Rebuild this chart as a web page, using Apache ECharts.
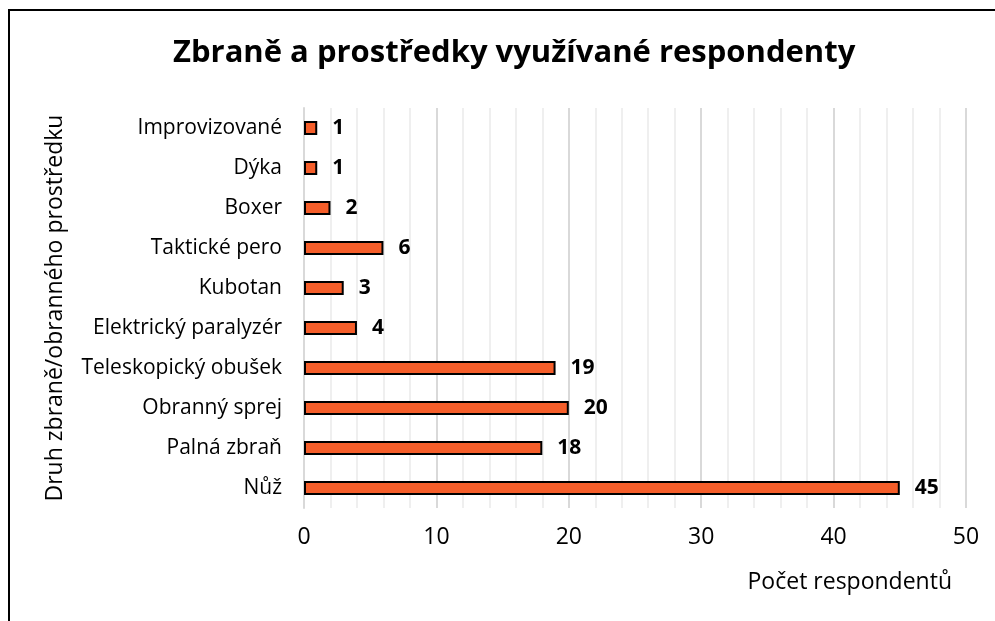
<!DOCTYPE html>
<html>
<head>
<meta charset="utf-8">
<script src="https://cdn.jsdelivr.net/npm/echarts@6/dist/echarts.min.js"></script>
<style>
  html, body { margin: 0; padding: 0; background: #fff; overflow: hidden; }
  #frame { position: absolute; left: 8px; top: 9px; width: 1000px; height: 640px; border: 2px solid #000; box-sizing: border-box; }
  #chart { position: absolute; left: 0; top: 0; width: 995px; height: 621px; }
</style>
</head>
<body>
<div id="frame"></div>
<div id="chart"></div>
<script>
var categories = ['Nůž', 'Palná zbraň', 'Obranný sprej', 'Teleskopický obušek', 'Elektrický paralyzér', 'Kubotan', 'Taktické pero', 'Boxer', 'Dýka', 'Improvizované'];
var values = [45, 18, 20, 19, 4, 3, 6, 2, 1, 1];
var xTicks = [0, 10, 20, 30, 40, 50];

var fontFam = 'Open Sans, Noto Sans, sans-serif';
var myChart = echarts.init(document.getElementById('chart'));
var option = {
    animation: false,
    title: {
        text: 'Zbraně a prostředky využívané respondenty',
        left: 168,
        top: 33,
        textStyle: { fontFamily: fontFam, fontSize: 31, fontWeight: 'bold', color: '#000' }
    },
    grid: { left: 304, right: 29, top: 108, bottom: 113 },
    xAxis: {
        type: 'value',
        min: xTicks[0],
        max: xTicks[xTicks.length - 1],
        interval: 10,
        name: 'Počet respondentů',
        nameLocation: 'end',
        nameGap: 0,
        nameTextStyle: { fontFamily: fontFam, fontSize: 23, color: '#000', align: 'right', verticalAlign: 'top', padding: [63, 14, 0, 0] },
        axisLine: { show: false },
        axisTick: { show: false },
        axisLabel: { fontFamily: fontFam, fontSize: 23, color: '#000', margin: 18 },
        splitLine: { show: true, lineStyle: { color: '#d9d9d9', width: 2 } },
        minorTick: { show: false, splitNumber: 5 },
        minorSplitLine: { show: true, lineStyle: { color: '#efefef', width: 2 } }
    },
    yAxis: {
        type: 'category',
        data: categories,
        name: 'Druh zbraně/obranného prostředku',
        nameLocation: 'middle',
        nameGap: 237,
        nameTextStyle: { fontFamily: fontFam, fontSize: 23, color: '#000' },
        axisLine: { show: true, lineStyle: { color: '#d9d9d9', width: 2 } },
        axisTick: { show: false },
        axisLabel: { fontFamily: fontFam, fontSize: 21, color: '#000', margin: 22 }
    },
    series: [{
        type: 'bar',
        data: values,
        barWidth: 14,
        itemStyle: { color: '#F55E2A', borderColor: '#000', borderWidth: 2 },
        label: {
            show: true,
            position: 'right',
            distance: 15,
            fontFamily: fontFam,
            fontSize: 21,
            fontWeight: 'bold',
            color: '#000'
        }
    }]
};
myChart.setOption(option);
window.onresize = function () { myChart.resize(); };
</script>
</body>
</html>
